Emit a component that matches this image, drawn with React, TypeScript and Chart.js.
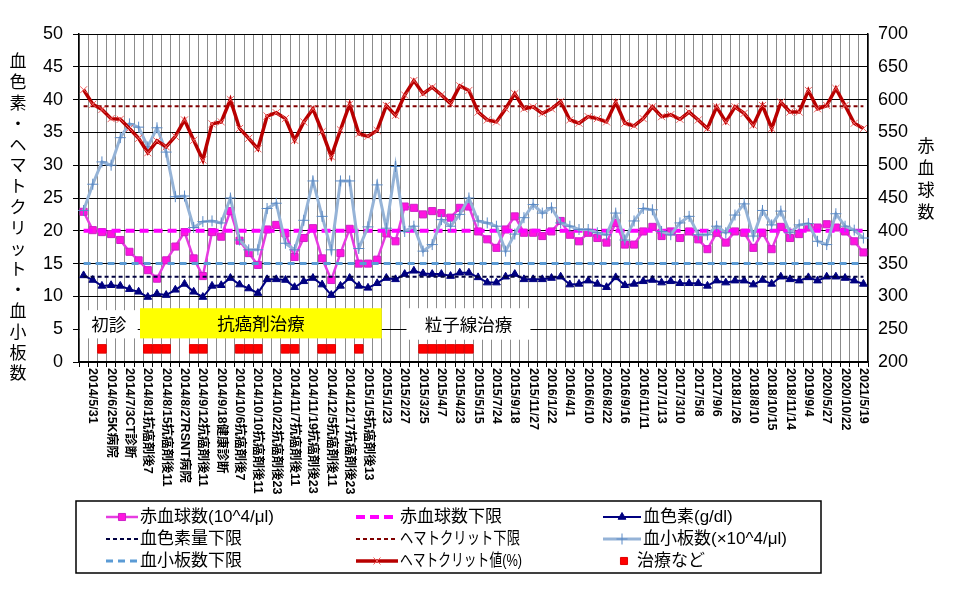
import React, { useEffect, useRef } from 'react';
import { Chart, registerables } from 'chart.js';

Chart.register(...registerables);

const fontLat = '"Liberation Sans", Arial, "Noto Sans CJK JP", sans-serif';
const fontJP = '"Noto Sans CJK JP", "Liberation Sans", sans-serif';

// visible tick labels (every other category, starting at the 2nd)
const tickLabels = [
  '2014/5/31', '2014/6/25K病院', '2014/7/3CT診断', '2014/8/1抗癌剤後7', '2014/8/15抗癌剤後11',
  '2014/8/27RSNT病院', '2014/9/12抗癌剤後11', '2014/9/18健康診断', '2014/10/6抗癌剤後7',
  '2014/10/10抗癌剤後11', '2014/10/22抗癌剤後23', '2014/11/7抗癌剤後11', '2014/11/19抗癌剤後23',
  '2014/12/5抗癌剤後11', '2014/12/17抗癌剤後23', '2015/1/5抗癌剤後13', '2015/1/23',
  '2015/2/27', '2015/3/25', '2015/4/7', '2015/4/23', '2015/5/15', '2015/7/24', '2015/9/18',
  '2015/11/27', '2016/1/22', '2016/4/1', '2016/6/10', '2016/8/22', '2016/9/16', '2016/11/11',
  '2017/1/13', '2017/3/10', '2017/5/8', '2017/9/6', '2018/1/26', '2018/8/10', '2018/10/15',
  '2018/11/14', '2019/9/4', '2020/5/27', '2020/10/22', '2021/5/19',
];
const categoryCount = 86;
const categories = Array.from({ length: categoryCount }, (_, i) =>
  i % 2 === 1 ? tickLabels[(i - 1) / 2] : ''
);

// 赤血球数 (10^4/μl) – right axis
const rbc = [
  429, 401, 398, 395, 386, 368, 355, 340, 327, 355,
  376, 398, 358, 331, 398, 391, 430, 385, 366, 348,
  402, 409, 396, 360, 389, 404, 358, 325, 366, 403,
  350, 350, 356, 396, 384, 437, 435, 425, 430, 427,
  420, 435, 437, 399, 387, 374, 402, 422, 397, 397,
  392, 399, 415, 394, 384, 397, 389, 382, 412, 379,
  379, 399, 406, 392, 399, 389, 399, 387, 372, 397,
  382, 399, 397, 374, 397, 372, 406, 389, 395, 405,
  405, 410, 405, 399, 384, 367,
];
// 血色素 (g/dl)
const hgb = [
  13.2, 12.5, 11.6, 11.7, 11.6, 11.1, 10.7, 9.9, 10.4, 10.2,
  11.0, 11.9, 10.7, 9.9, 11.6, 11.7, 12.8, 11.8, 11.2, 10.5,
  12.6, 12.6, 12.5, 11.4, 12.3, 12.8, 11.8, 10.2, 11.6, 12.8,
  11.6, 11.3, 12.0, 12.8, 12.6, 13.4, 13.9, 13.5, 13.4, 13.4,
  13.1, 13.6, 13.6, 12.9, 12.1, 12.1, 13.0, 13.4, 12.6, 12.6,
  12.6, 12.8, 13.0, 11.8, 11.9, 12.4, 11.9, 11.4, 12.9, 11.7,
  11.9, 12.3, 12.5, 12.1, 12.3, 12.0, 12.0, 12.0, 11.6, 12.4,
  12.1, 12.4, 12.4, 11.8, 12.5, 11.9, 13.0, 12.6, 12.4, 12.9,
  12.4, 13.0, 13.0, 12.8, 12.4, 11.9,
];
// 血小板数 (x10^4/μl)
const plt = [
  23.1, 27.1, 30.5, 30.0, 34.2, 36.3, 35.8, 32.8, 35.7, 32.0,
  25.2, 25.3, 20.5, 21.4, 21.5, 21.2, 25.0, 18.6, 17.1, 17.1,
  23.4, 24.2, 18.1, 17.1, 21.6, 27.6, 22.2, 17.1, 27.6, 27.6,
  17.3, 20.6, 27.0, 20.4, 29.8, 19.9, 20.7, 16.9, 17.9, 21.7,
  20.7, 22.5, 25.0, 21.5, 21.2, 20.7, 16.9, 19.5, 22.0, 24.0,
  22.7, 23.5, 21.2, 20.7, 20.2, 20.2, 19.7, 19.4, 22.7, 18.6,
  21.5, 23.4, 23.2, 19.9, 19.4, 21.2, 22.2, 19.4, 19.4, 20.7,
  19.7, 22.4, 24.1, 19.2, 23.1, 20.9, 23.0, 19.7, 20.9, 21.1,
  18.4, 17.9, 22.6, 20.7, 20.1, 18.9,
];
// ヘマトクリット値 (%)
const ht = [
  41.5, 39.3, 38.5, 37.1, 37.0, 35.6, 34.1, 31.9, 33.7, 32.8,
  34.4, 36.9, 33.8, 30.8, 36.3, 36.6, 40.0, 35.6, 34.1, 32.5,
  37.5, 38.0, 37.1, 33.8, 36.6, 38.6, 35.1, 31.3, 35.4, 39.3,
  34.8, 34.4, 35.3, 39.1, 37.6, 40.7, 42.9, 40.9, 41.9, 40.7,
  39.4, 42.1, 41.4, 38.1, 36.9, 36.6, 38.6, 40.9, 38.6, 38.9,
  37.9, 38.6, 39.7, 36.9, 36.4, 37.4, 37.1, 36.6, 39.6, 36.4,
  36.0, 37.1, 38.9, 37.4, 37.7, 37.0, 38.1, 36.9, 35.6, 38.9,
  36.6, 38.9, 37.9, 36.1, 39.1, 35.6, 39.6, 38.1, 38.1, 41.4,
  38.6, 39.1, 41.7, 39.1, 36.4, 35.6,
];
// 治療など: categories with a treatment mark, drawn at this level
const treatmentIndices = [2, 7, 8, 9, 12, 13, 17, 18, 19, 22, 23, 26, 27, 30, 37, 38, 39, 40, 41, 42];
const treatmentLevel = 2;
// lower limits
const rbcLower = 400;
const hgbLower = 13;
const htLower = 39;
const pltLower = 15;

const treatment = categories.map((_, i) => (treatmentIndices.includes(i) ? treatmentLevel : null));
const constLine = (v: number) => categories.map(() => v);

// annotation spans (category index units / left-axis units)
const annotationBoxes = [
  { text: '初診', from: -0.4, to: 5.9, top: 7.9, bottom: 3.6, fill: '#ffffff' },
  { text: '抗癌剤治療', from: 6.15, to: 32.5, top: 8.2, bottom: 3.6, fill: '#ffff00' },
  { text: '粒子線治療', from: 35.2, to: 48.7, top: 8.2, bottom: 3.4, fill: '#ffffff' },
];

const leftTitle = '血色素・ヘマトクリット・血小板数';
const rightTitle = '赤血球数';

type Sty = {
  color: string; width: number; dash: number[]; showLine: boolean;
  point: string | null; pr: number; pFill: string; pStroke: string; pw: number;
};

const S = {
  rbc: { color: '#E63CE0', width: 2.5, dash: [], showLine: true, point: 'rect', pr: 5, pFill: '#FF14E0', pStroke: '#D020C8', pw: 1 },
  rbcL: { color: '#FF00FF', width: 4, dash: [9, 5], showLine: true, point: null, pr: 0, pFill: '', pStroke: '', pw: 0 },
  hgb: { color: '#000080', width: 2, dash: [], showLine: true, point: 'triangle', pr: 4.5, pFill: '#000080', pStroke: '#000080', pw: 1 },
  hgbL: { color: '#000040', width: 2, dash: [4, 3], showLine: true, point: null, pr: 0, pFill: '', pStroke: '', pw: 0 },
  htL: { color: '#800000', width: 2, dash: [4, 3], showLine: true, point: null, pr: 0, pFill: '', pStroke: '', pw: 0 },
  plt: { color: '#95B3D7', width: 3, dash: [], showLine: true, point: 'cross', pr: 5.5, pFill: '#5A8AC6', pStroke: '#5A8AC6', pw: 1 },
  pltL: { color: '#5B9BD5', width: 3, dash: [7, 5], showLine: true, point: null, pr: 0, pFill: '', pStroke: '', pw: 0 },
  ht: { color: '#B80000', width: 3.5, dash: [], showLine: true, point: 'crossRot', pr: 5, pFill: '#F06060', pStroke: '#F06060', pw: 1 },
  tr: { color: '#FF0000', width: 0, dash: [], showLine: false, point: 'rect', pr: 6, pFill: '#FF0000', pStroke: '#E00000', pw: 1 },
} as Record<string, Sty>;

const legendItems = [
  { label: '赤血球数(10^4/μl)', s: 'rbc', row: 0, col: 0, w: 146 },
  { label: '赤血球数下限', s: 'rbcL', row: 0, col: 1, w: 104 },
  { label: '血色素(g/dl)', s: 'hgb', row: 0, col: 2, w: 96 },
  { label: '血色素量下限', s: 'hgbL', row: 1, col: 0, w: 104 },
  { label: 'ヘマトクリット下限', s: 'htL', row: 1, col: 1, w: 120 },
  { label: '血小板数(×10^4/μl)', s: 'plt', row: 1, col: 2, w: 150 },
  { label: '血小板数下限', s: 'pltL', row: 2, col: 0, w: 104 },
  { label: 'ヘマトクリット値(%)', s: 'ht', row: 2, col: 1, w: 122 },
  { label: '治療など', s: 'tr', row: 2, col: 2, w: 72 },
];

function mk(label: string, data: (number | null)[], s: Sty, axis: string, order: number) {
  return {
    label, data, yAxisID: axis, order,
    borderColor: s.color, borderWidth: s.width, borderDash: s.dash,
    showLine: s.showLine, tension: 0, fill: false, spanGaps: false,
    pointStyle: s.point || 'circle', pointRadius: s.point ? s.pr : 0, pointHoverRadius: s.point ? s.pr : 0,
    pointBackgroundColor: s.pFill, pointBorderColor: s.pStroke, pointBorderWidth: s.pw,
    backgroundColor: s.pFill || s.color,
  };
}

function drawMarker(ctx: CanvasRenderingContext2D, s: Sty, x: number, y: number) {
  if (!s.point) return;
  const r = s.pr;
  ctx.save();
  ctx.setLineDash([]);
  ctx.lineWidth = s.pw;
  ctx.strokeStyle = s.pStroke;
  ctx.fillStyle = s.pFill;
  ctx.beginPath();
  if (s.point === 'rect') {
    const h = r * Math.SQRT1_2;
    ctx.rect(x - h, y - h, 2 * h, 2 * h);
    ctx.fill();
    ctx.stroke();
  } else if (s.point === 'triangle') {
    ctx.moveTo(x, y - r);
    ctx.lineTo(x + r * 0.866, y + r * 0.5);
    ctx.lineTo(x - r * 0.866, y + r * 0.5);
    ctx.closePath();
    ctx.fill();
    ctx.stroke();
  } else if (s.point === 'cross') {
    ctx.moveTo(x, y - r); ctx.lineTo(x, y + r);
    ctx.moveTo(x - r, y); ctx.lineTo(x + r, y);
    ctx.stroke();
  } else if (s.point === 'crossRot') {
    const d = r * Math.SQRT1_2;
    ctx.moveTo(x - d, y - d); ctx.lineTo(x + d, y + d);
    ctx.moveTo(x + d, y - d); ctx.lineTo(x - d, y + d);
    ctx.stroke();
  }
  ctx.restore();
}

const overlayPlugin = {
  id: 'overlay',
  beforeDatasetsDraw(chart: any) {
    const { ctx } = chart;
    const xs = chart.scales.x;
    const ys = chart.scales.y;
    ctx.save();
    annotationBoxes.forEach((b) => {
      const x0 = xs.getPixelForValue(b.from);
      const x1 = xs.getPixelForValue(b.to);
      const y0 = ys.getPixelForValue(b.top);
      const y1 = ys.getPixelForValue(b.bottom);
      ctx.fillStyle = b.fill;
      ctx.fillRect(x0, y0, x1 - x0, y1 - y0);
      ctx.fillStyle = '#000';
      ctx.font = `17.5px ${fontJP}`;
      ctx.textAlign = 'center';
      ctx.textBaseline = 'middle';
      ctx.fillText(b.text, (x0 + x1) / 2, (y0 + y1) / 2);
    });
    ctx.restore();
  },
  afterDraw(chart: any) {
    const { ctx, chartArea } = chart;
    const xs = chart.scales.x;
    ctx.save();
    // rotated category labels (reading top to bottom)
    ctx.fillStyle = '#000';
    ctx.font = `bold 12.5px ${fontLat}`;
    ctx.textAlign = 'left';
    ctx.textBaseline = 'middle';
    categories.forEach((lab, i) => {
      if (!lab) return;
      const x = xs.getPixelForValue(i);
      ctx.save();
      ctx.translate(x, chartArea.bottom + 6);
      ctx.rotate(Math.PI / 2);
      ctx.fillText(lab, 0, 0);
      ctx.restore();
    });
    // axis titles, stacked vertically
    ctx.font = `17px ${fontJP}`;
    ctx.textAlign = 'center';
    Array.from(leftTitle).forEach((ch, i) => ctx.fillText(ch, 18, 61 + i * 20.8));
    Array.from(rightTitle).forEach((ch, i) => ctx.fillText(ch, 926, 146 + i * 21.7));
    // legend
    ctx.lineWidth = 1.5;
    ctx.strokeStyle = '#000';
    ctx.setLineDash([]);
    ctx.strokeRect(76, 501, 745, 72);
    const rows = [517, 539, 561];
    const cols = [
      { x0: 106, x1: 138, tx: 140 },
      { x0: 356, x1: 398, tx: 400 },
      { x0: 603, x1: 641, tx: 643 },
    ];
    legendItems.forEach((it) => {
      const s = S[it.s];
      const c = cols[it.col];
      const y = rows[it.row];
      if (s.showLine) {
        ctx.save();
        ctx.strokeStyle = s.color;
        ctx.lineWidth = s.width;
        ctx.setLineDash(s.dash);
        ctx.beginPath();
        ctx.moveTo(c.x0, y);
        ctx.lineTo(c.x1, y);
        ctx.stroke();
        ctx.restore();
      }
      drawMarker(ctx, s.showLine ? s : { ...s, pr: 5 }, (c.x0 + c.x1) / 2 + (s.showLine ? 0 : 2), y);
      ctx.fillStyle = '#000';
      ctx.font = `17px ${fontLat}`;
      ctx.textAlign = 'left';
      ctx.textBaseline = 'middle';
      ctx.fillText(it.label, s.showLine ? c.tx : c.tx - 6, y, it.w);
    });
    ctx.restore();
  },
};

export default function App() {
  const ref = useRef<HTMLCanvasElement>(null);
  useEffect(() => {
    if (!ref.current) return;
    const datasets = [
      mk('赤血球数(10^4/μl)', rbc, S.rbc, 'y1', 8),
      mk('赤血球数下限', constLine(rbcLower), S.rbcL, 'y1', 7),
      mk('血色素(g/dl)', hgb, S.hgb, 'y', 6),
      mk('血色素量下限', constLine(hgbLower), S.hgbL, 'y', 5),
      mk('ヘマトクリット下限', constLine(htLower), S.htL, 'y', 4),
      mk('血小板数(×10^4/μl)', plt, S.plt, 'y', 3),
      mk('血小板数下限', constLine(pltLower), S.pltL, 'y', 2),
      mk('ヘマトクリット値(%)', ht, S.ht, 'y', 1),
      mk('治療など', treatment, S.tr, 'y', 0),
    ];
    const chart = new Chart(ref.current, {
      type: 'line',
      data: { labels: categories, datasets: datasets as any },
      options: {
        responsive: false,
        animation: false,
        layout: { padding: { top: 34, left: 0, right: 0, bottom: 0 } },
        plugins: {
          legend: { display: false },
          tooltip: { enabled: false },
          title: { display: false },
        },
        scales: {
          x: {
            type: 'category',
            offset: true,
            grid: { offset: true, color: '#8c8c8c', lineWidth: 1, drawTicks: true, tickLength: 5, tickColor: '#000' },
            border: { color: '#000', width: 1.5 },
            ticks: { display: false, autoSkip: false },
            afterFit: (s: any) => { s.height = 234; },
          },
          y: {
            position: 'left',
            min: 0,
            max: 50,
            ticks: { stepSize: 5, color: '#000', font: { family: fontLat, size: 18 }, padding: 10 },
            grid: { color: '#000', lineWidth: 1, drawTicks: true, tickLength: 6, tickColor: '#000' },
            border: { color: '#000', width: 1.5 },
            afterFit: (s: any) => { s.width = 79; },
          },
          y1: {
            position: 'right',
            min: 200,
            max: 700,
            ticks: { stepSize: 50, color: '#000', font: { family: fontLat, size: 18 }, padding: 10 },
            grid: { display: false, drawTicks: false },
            border: { color: '#000', width: 1.5 },
            afterFit: (s: any) => { s.width = 94; },
          },
        },
      } as any,
      plugins: [overlayPlugin],
    });
    return () => chart.destroy();
  }, []);
  return (
    <div style={{ position: 'absolute', left: 0, top: 0, width: 962, height: 596, background: '#fff' }}>
      <canvas ref={ref} width={962} height={596} style={{ display: 'block' }} />
    </div>
  );
}
